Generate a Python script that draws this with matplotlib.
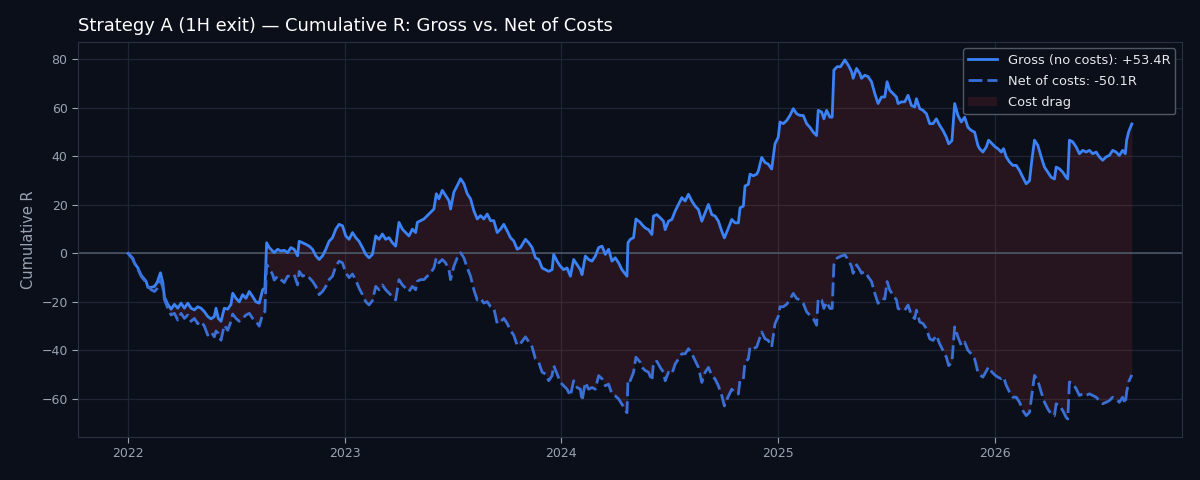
import numpy as np
import pandas as pd
import matplotlib
matplotlib.use("Agg")
import matplotlib.pyplot as plt
import matplotlib.dates as mdates

# years since 2022-01-01
t_years = [0.000,0.0217,0.0290,0.0447,0.0599,0.0829,0.0908,0.1060,0.1212,0.1336,0.1488,0.1599,0.1673,0.1829,0.1982,0.2134,0.2290,0.2442,0.2594,0.2751,0.2903,0.3055,0.3212,0.3364,0.3516,0.3673,0.3825,0.3977,0.4055,0.4161,0.4286,0.4438,0.4594,0.4747,0.4825,0.4977,0.5129,0.5286,0.5438,0.5590,0.5747,0.5899,0.6051,0.6207,0.6313,0.6392,0.6512,0.6668,0.6742,0.6899,0.7051,0.7203,0.7359,
0.7512,0.7664,0.7820,0.7894,0.8051,0.8203,0.8355,0.8512,0.8664,0.8816,0.8972,0.9124,0.9276,0.9433,0.9585,0.9737,0.9894,1.0046,1.0198,1.0355,1.0507,1.0659,1.0816,1.0968,1.1120,1.1276,1.1429,1.1581,1.1737,1.1889,1.2041,1.2198,1.2350,1.2502,1.2659,1.2811,1.2963,1.3120,1.3272,1.3350,1.3502,1.3654,1.3811,1.3963,1.4115,1.4226,1.4346,1.4502,1.4654,1.4806,1.4885,1.5037,1.5194,1.5346,1.5498,1.5654,1.5806,
1.5959,1.6115,1.6267,1.6419,1.6576,1.6728,1.6880,1.7037,1.7189,1.7341,1.7498,1.7650,1.7802,1.7959,1.8111,1.8341,1.8493,1.8650,1.8802,1.8954,1.9111,1.9263,1.9415,1.9571,1.9645,1.9802,1.9954,2.0106,2.0263,2.0415,2.0567,2.0724,2.0876,2.0954,2.1106,2.1258,2.1415,2.1567,2.1719,2.1876,2.2028,2.2180,2.2336,2.2488,2.2641,2.2797,2.3028,2.3074,2.3180,2.3332,2.3442,2.3641,
2.3719,2.3871,2.4023,2.4180,2.4253,2.4410,2.4562,2.4714,2.4793,2.4945,2.5101,2.5253,2.5406,2.5562,2.5714,2.5866,2.6023,2.6175,2.6327,2.6484,2.6636,2.6788,2.6945,2.7097,2.7249,2.7406,2.7525,2.7682,2.7866,2.8018,2.8171,2.8249,2.8401,2.8479,2.8631,2.8710,2.8862,2.9018,2.9092,2.9249,2.9401,2.9553,2.9710,2.9862,3.0014,3.0092,3.0244,3.0401,3.0553,3.0705,3.0862,3.1014,3.1166,3.1323,3.1475,
3.1627,3.1783,3.1857,3.2014,3.2120,3.2244,3.2396,3.2502,3.2581,3.2733,3.2889,3.3088,3.3240,3.3396,3.3470,3.3627,3.3779,3.3857,3.4009,3.4161,3.4318,3.4470,3.4622,3.4779,3.4931,3.5037,3.5161,3.5313,3.5470,3.5544,3.5700,3.5853,3.6005,3.6161,3.6313,3.6392,3.6544,3.6696,3.6853,3.7005,3.7157,3.7313,3.7465,3.7618,3.7774,3.7880,3.8032,3.8157,3.8309,3.8465,3.8618,3.8770,3.8926,3.9078,3.9230,
3.9309,3.9461,3.9618,3.9724,3.9876,4.0032,4.0152,4.0309,4.0415,4.0539,4.0691,4.0843,4.1000,4.1152,4.1304,4.1461,4.1613,4.1719,4.1843,4.1995,4.2152,4.2304,4.2456,4.2613,4.2765,4.2843,4.2995,4.3147,4.3304,4.3378,4.3456,4.3608,4.3765,4.3917,4.4069,4.4226,4.4378,4.4530,4.4687,4.4839,4.4991,4.5147,4.5300,4.5452,4.5608,4.5760,4.5912,4.6037,4.6097,4.6189,4.6336]

gross = [0,-2,-4,-6,-9,-11.5,-14,-14,-13.6,-12,-8,-12,-18,-21,-23,-21,-22.6,-20.5,-22.6,-20.5,-22.6,-23.3,-22,-22.6,-24,-26,-27,-26,-22.6,-26.8,-28,-22.6,-23,-21,-16.4,-18.5,-20,-17,-18.5,-15.7,-17.8,-20,-20.5,-15,-14.3,4.4,2.4,1,0.3,1.7,1,1.3,0.3,
2.4,1.7,-1,5,4.4,3.75,3,1.7,-1,-2.5,-1,1.7,5,6.5,10,12,11.4,7.2,5.8,8.6,6.5,5,2.4,-0.4,-1.8,-0.4,7.2,5.8,8,5.8,6.5,4.4,3,12.8,10,8.6,7.2,10,8.6,12.8,13.5,14.2,15.6,17,18.3,24.6,22.5,26,23.9,21.8,18.3,25.3,28,30.8,28.75,24.6,22.5,
17.6,14.2,15.6,14.2,16.25,13.5,13.5,8.6,10,12,9.3,6.5,5.1,1.7,2.4,5.8,4.4,2.4,-1.8,-2.5,-6,-6.7,-7.4,-6.7,-0.4,-3.2,-5.3,-6.7,-6,-9.4,-2.5,-4.6,-6.7,-8.75,-1.1,-2.5,-3.2,-1.1,2.4,3,-0.4,1.7,-3.2,-1.8,-3.9,-6.7,-9.4,4.4,5.8,6.5,14.2,12.8,
11.9,10.5,9.8,7.8,15.4,16,14.7,13.3,9.8,13.3,14,17.5,20.2,23,21.6,24.4,21.6,19.5,18.1,13.3,16.8,20.2,16,15.4,13.3,9.1,6.4,9.8,14,12.6,12.6,18.8,19.5,27.8,28.5,32.7,32,32.7,34,39.6,37.5,36.8,34.8,45.2,47.9,54.2,53.5,54.8,56.9,59.7,57.6,56.9,56.9,53.5,52,
50,48.6,59,58.3,55.5,59,56.2,56.2,75.6,77,77,79.8,77.7,75,72.2,76.3,74.2,72.2,73.5,72.9,70.8,65.9,61.8,64.5,64.5,70.8,67.3,65.9,64.5,61.8,62.5,62.5,65.2,61,60.4,63.8,59.7,59,57.6,53.5,53.5,55.5,52.8,50.7,47.9,45.2,46.5,61.8,56.9,54.2,56.2,52,50.7,50,44.5,
43.2,41.8,43.9,46.7,45.3,43.9,43.2,41.8,43.2,39.8,37.7,36.3,36.3,34.2,31.4,28.7,30,38.4,46.7,44.6,39.8,35.6,33.5,31.4,30.7,35.6,34.9,33.5,31.4,30.7,46.7,46,43.9,41.1,42.5,41.8,42.5,41.1,41.8,39.8,38.4,39.8,40.4,42.5,41.8,40.4,42.5,41.1,46.7,50.1,53.4]

net = [0,-2.5,-4,-6.5,-9.4,-12,-13.5,-15,-15.7,-14.5,-11,-14,-19,-22.6,-25.4,-24.7,-27.5,-24.7,-26.8,-25.4,-28,-26.8,-29,-28,-30,-33.7,-32.4,-34.4,-32,-33,-35.8,-29.6,-31.7,-28,-25,-26.8,-28,-26.8,-25.4,-24.7,-26.8,-28,-30,-25,-24,-4.6,-6,-8.75,-11,-9.4,-10.8,-12,-9.4,
-9.4,-8.75,-13,-7.4,-9.4,-8.75,-10,-11.5,-13.6,-17,-15.7,-13.6,-10.8,-9.4,-5.3,-3.2,-3.9,-8,-10,-8.5,-11,-14.3,-17,-19.9,-21.25,-19.5,-13.6,-15,-13,-15,-16.4,-17.8,-19.2,-10.8,-13,-14.3,-15.7,-13.6,-15,-11.5,-10.8,-10.8,-9.4,-8,-6,-1.8,-3.9,-2.5,-3.9,-6.7,-10.8,-5.3,-1.8,0.3,-1.8,-6,-9.4,
-15,-19.2,-18.5,-20.5,-19.9,-21.9,-22.6,-28.9,-28.2,-26.8,-28.9,-31.7,-33.75,-37.9,-37.2,-34.4,-36.5,-38.6,-43.5,-44.9,-49,-49.7,-52.5,-50.4,-46.25,-49.7,-53.2,-54.6,-56,-58.75,-52.5,-55.3,-56,-60.8,-53.2,-56,-55.3,-56,-50.4,-51.7,-54.6,-53.9,-58,-58.75,-60,-62.2,-65.7,-51.8,-52.5,-49,-42.8,-44.9,
-47,-48.3,-49,-52.5,-44.9,-44.5,-47,-49,-52.5,-49,-49.7,-45.6,-43.5,-41.4,-41.4,-39.3,-41.4,-44.2,-47,-53.2,-49,-47,-50.4,-51.8,-54.6,-58.7,-62.9,-59.4,-56,-57.3,-58,-52,-51.8,-44.9,-43.5,-38.6,-39.3,-38.6,-36.6,-32.4,-35.2,-35.9,-38.6,-29,-26,-22,-22,-21,-19,-16.5,-18.6,-19.2,-20.6,-24.1,-25.5,
-26.9,-29.6,-18.6,-19.2,-22.7,-20,-22.7,-22.7,-4.7,-1.9,-1.2,-0.6,-2.6,-5.4,-8.2,-4.7,-6.8,-8.2,-7.5,-9.6,-11.6,-16.5,-20.6,-18.6,-18.8,-11.6,-15.1,-17.2,-19.2,-22.7,-23.4,-23.4,-21.3,-25.5,-26.9,-23.4,-28.3,-28.9,-31,-35.2,-35.9,-33.8,-37.3,-40,-42.8,-46.3,-44.9,-30.3,-34.5,-38,-36.6,-40,-41.4,-43.5,-49,
-50,-51,-48.5,-46.8,-48.9,-50.3,-51,-51.7,-51,-54.4,-57.2,-59.3,-59.3,-61.4,-64.8,-66.9,-65.5,-58.6,-50.3,-52.4,-57.2,-61.4,-64.1,-66.2,-66.9,-62,-62.7,-64.8,-67.6,-68.3,-53,-53.7,-55.8,-58.6,-57.9,-58.6,-57.9,-58.6,-59.3,-60.7,-62,-61.4,-60.7,-59.3,-60,-61.4,-59.3,-62,-57.2,-53,-50.1]

title = "Strategy A (1H exit) \u2014 Cumulative R: Gross vs. Net of Costs"
ylabel = "Cumulative R"

dates = pd.Timestamp("2022-01-01") + pd.to_timedelta(np.array(t_years) * 365.25, unit="D")
gross = np.array(gross)
net = np.array(net)

BG = "#0b0f1a"
GRID = "#1e2533"
TXT = "#9aa3b2"

fig = plt.figure(figsize=(12, 4.8), dpi=100, facecolor=BG)
ax = fig.add_axes([0.065, 0.0896, 0.92, 0.823])
ax.set_facecolor(BG)

ax.fill_between(dates, net, gross, color="#ef4444", alpha=0.12, linewidth=0, label="Cost drag")
ax.plot(dates, gross, color="#3b82f6", lw=2.0, label=f"Gross (no costs): {gross[-1]:+.1f}R")
ax.plot(dates, net, color="#3a6fd6", lw=2.0, ls=(0, (5, 1.8)), label=f"Net of costs: {net[-1]:.1f}R")
ax.axhline(0, color="#4d5b6b", lw=1.1, zorder=1)

ax.grid(True, color=GRID, lw=0.9)
ax.set_axisbelow(True)
for s in ax.spines.values():
    s.set_color("#2a3140")
ax.tick_params(colors=TXT, labelsize=9, length=4, color=TXT)

ax.xaxis.set_major_locator(mdates.YearLocator())
ax.xaxis.set_major_formatter(mdates.DateFormatter("%Y"))
ax.set_yticks([-60, -40, -20, 0, 20, 40, 60, 80])

ax.set_title(title, loc="left", color="white", fontsize=12.9, pad=8)
ax.set_ylabel(ylabel, color=TXT, fontsize=10.5)

handles, labels = ax.get_legend_handles_labels()
order = [1, 2, 0]
leg = ax.legend([handles[i] for i in order], [labels[i] for i in order], loc="upper right",
                facecolor=BG, edgecolor="#505866", fontsize=9.4, framealpha=1.0,
                borderaxespad=0.5, labelspacing=0.62, handlelength=2.2)
for t in leg.get_texts():
    t.set_color("#e5e7eb")

fig.savefig("out.png", dpi=100, facecolor=BG)
